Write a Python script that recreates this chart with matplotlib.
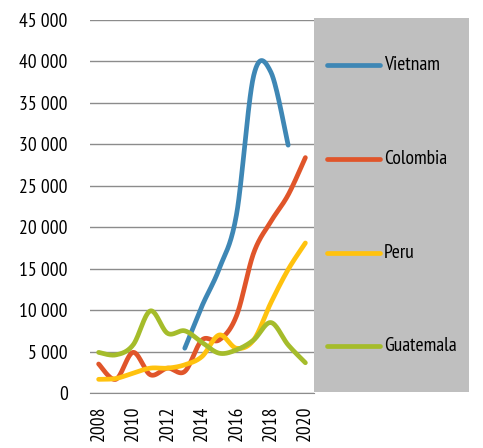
import numpy as np
import matplotlib
matplotlib.use("Agg")
import matplotlib.pyplot as plt
from matplotlib.patches import Rectangle
from matplotlib.ticker import FuncFormatter

plt.rcParams['font.family'] = ['PT Sans Narrow', 'DejaVu Sans']

years = list(range(2008, 2021))
vietnam = [None, None, None, None, None, 5400, 10500, 15000, 21500, 38300, 38700, 29900, None]
colombia = [3500, 1650, 4900, 2200, 3000, 2600, 6400, 6400, 9300, 16900, 20700, 23900, 28400]
peru = [1650, 1750, 2400, 3000, 3000, 3400, 4400, 7000, 5400, 6400, 10900, 14900, 18100]
guatemala = [4900, 4600, 5800, 9900, 7200, 7500, 6100, 4800, 5200, 6400, 8500, 5800, 3650]

series = [("Vietnam", vietnam, "#3E87B5"),
          ("Colombia", colombia, "#E0552A"),
          ("Peru", peru, "#FFC20E"),
          ("Guatemala", guatemala, "#A5BC2B")]


def smooth(xs, ys, n=30):
    """Catmull-Rom style Bezier smoothing through every point."""
    pts = np.column_stack([xs, ys]).astype(float)
    out = [pts[0]]
    m = len(pts)
    for i in range(m - 1):
        p0 = pts[i - 1] if i > 0 else pts[i]
        p1, p2 = pts[i], pts[i + 1]
        p3 = pts[i + 2] if i + 2 < m else pts[i + 1]
        c1 = p1 + (p2 - p0) / 6.0
        c2 = p2 - (p3 - p1) / 6.0
        t = np.linspace(0, 1, n)[1:, None]
        seg = ((1 - t) ** 3) * p1 + 3 * ((1 - t) ** 2) * t * c1 + 3 * (1 - t) * t ** 2 * c2 + t ** 3 * p2
        out.extend(seg)
    out = np.array(out)
    return out[:, 0], out[:, 1]


fig = plt.figure(figsize=(4.83, 4.48), dpi=100)
W, H = 483, 448
ax = fig.add_axes([90 / W, (H - 393) / H, 224 / W, 373 / H])

# grey panel holding the legend
fig.patches.append(Rectangle((314 / W, (H - 392) / H), 155 / W, 374 / H,
                             transform=fig.transFigure, facecolor="#BFBFBF",
                             edgecolor="none", zorder=0))

for name, vals, color in series:
    xs = [y for y, v in zip(years, vals) if v is not None]
    vs = [v for v in vals if v is not None]
    sx, sy = smooth(xs, vs)
    ax.plot(sx, sy, color=color, lw=3.4, solid_capstyle="round", label=name, zorder=3)

ax.set_xlim(2007.5, 2020.5)
ax.set_ylim(0, 45000)
ax.set_yticks(range(0, 45001, 5000))
ax.yaxis.set_major_formatter(FuncFormatter(lambda v, p: f"{int(v):,}".replace(",", " ")))
ax.set_xticks(range(2008, 2021, 2))
ax.set_xticklabels([str(y) for y in range(2008, 2021, 2)], rotation=90)
ax.grid(axis="y", color="#8C8C8C", lw=1.0)
ax.set_axisbelow(True)
for s in ["top", "right", "left"]:
    ax.spines[s].set_visible(False)
ax.spines["bottom"].set_color("#8C8C8C")
ax.tick_params(axis="both", length=0, labelsize=14, colors="#000000")
ax.tick_params(axis="y", pad=16)
ax.tick_params(axis="x", pad=9)
ax.patch.set_alpha(0)

# legend entries inside the grey panel
leg_y = [65, 159, 253, 346]
for (name, vals, color), py in zip(series, leg_y):
    yf = (H - py) / H
    fig.add_artist(plt.Line2D([327 / W, 380 / W], [yf, yf], transform=fig.transFigure,
                              color=color, lw=3.4, solid_capstyle="round"))
    fig.text(384 / W, yf, name, fontsize=14, va="center", ha="left", color="#000000")

fig.savefig("out.png", dpi=100)
